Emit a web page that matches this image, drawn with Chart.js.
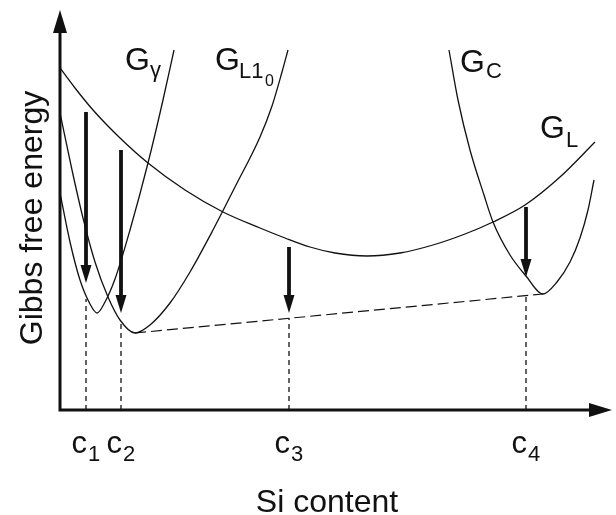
<!DOCTYPE html>
<html>
<head>
<meta charset="utf-8">
<title>Gibbs free energy vs Si content</title>
<script src="https://cdn.jsdelivr.net/npm/chart.js@4.4.1/dist/chart.umd.min.js"></script>
<style>
  html, body { margin: 0; padding: 0; background: #fff; }
  #wrap { width: 616px; height: 515px; }
</style>
</head>
<body>
<div id="wrap"><canvas id="gibbsChart" width="616" height="515"></canvas></div>
<script>
// schematic units: x = Si content, y = Gibbs free energy (arbitrary)
const gammaX = [0, 10, 20, 30, 37, 45, 55, 70, 88, 103, 114];
const gammaY = [217, 168, 130, 106, 97, 108, 131, 180, 247, 310, 360];

const l10X = [0, 12, 23, 35, 48, 60, 75, 90, 110, 130, 153, 175, 200, 212, 222, 228];
const l10Y = [297, 240, 192, 148, 113, 90, 77, 85, 107, 138, 180, 223, 273, 304, 338, 360];

const cX = [389, 398, 410, 424, 433, 450, 466, 483, 497, 510, 520, 528, 534];
const cY = [360, 310, 260, 215, 188, 155, 134, 116, 128, 148, 172, 200, 230];

const liqX = [0, 15, 33, 60, 88, 125, 163, 200, 225, 250, 275, 307, 340, 373, 405, 433, 465, 500, 535];
const liqY = [342, 322, 300, 272, 247, 220, 198, 182, 172, 163, 157, 154, 157, 165, 176, 188, 205, 233, 268];

// common tangent between L1_0 and C minima
const tangentX = [75, 483];
const tangentY = [77, 116];

// compositions c1..c4 and where the dashed drop lines start
const cLabels = ["1", "2", "3", "4"];
const cPos = [26, 61, 229, 466];
const cTop = [111, 88, 92, 114];

// arrows (free energy drop)
const arrowFrom = [298, 260, 163, 203];
const arrowTo = [127, 97, 97, 133];

const INK = "#111";
const FONT = '"Liberation Sans", Arial, Helvetica, sans-serif';

function pts(xs, ys) {
  return xs.map((x, i) => ({ x: x, y: ys[i] }));
}

function curve(xs, ys) {
  return {
    data: pts(xs, ys),
    showLine: true,
    borderColor: INK,
    borderWidth: 1.3,
    pointRadius: 0,
    cubicInterpolationMode: "monotone",
    fill: false
  };
}

const datasets = [
  curve(gammaX, gammaY),
  curve(l10X, l10Y),
  curve(cX, cY),
  curve(liqX, liqY),
  {
    data: pts(tangentX, tangentY),
    showLine: true,
    borderColor: INK,
    borderWidth: 1.2,
    borderDash: [11, 5],
    pointRadius: 0
  }
];

cPos.forEach((x, i) => {
  datasets.push({
    data: [{ x: x, y: 0 }, { x: x, y: cTop[i] }],
    showLine: true,
    borderColor: INK,
    borderWidth: 1.3,
    borderDash: [5, 4],
    pointRadius: 0
  });
});

// axes, arrows and labels
const decoPlugin = {
  id: "deco",
  afterDatasetsDraw(chart) {
    const ctx = chart.ctx;
    const area = chart.chartArea;
    const xs = chart.scales.x;
    const ys = chart.scales.y;
    ctx.save();
    ctx.fillStyle = INK;
    ctx.strokeStyle = INK;

    // axis lines
    ctx.lineWidth = 3;
    ctx.beginPath();
    ctx.moveTo(area.left, area.bottom + 1.5);
    ctx.lineTo(area.left, area.top + 18);
    ctx.moveTo(area.left - 1.5, area.bottom);
    ctx.lineTo(area.right - 18, area.bottom);
    ctx.stroke();

    // axis arrowheads
    ctx.beginPath();
    ctx.moveTo(area.left, area.top);
    ctx.lineTo(area.left - 7, area.top + 23);
    ctx.lineTo(area.left + 7, area.top + 23);
    ctx.closePath();
    ctx.fill();
    ctx.beginPath();
    ctx.moveTo(area.right, area.bottom);
    ctx.lineTo(area.right - 23, area.bottom - 7);
    ctx.lineTo(area.right - 23, area.bottom + 7);
    ctx.closePath();
    ctx.fill();

    // energy-drop arrows
    cPos.forEach((x, i) => {
      const px = xs.getPixelForValue(x);
      const y0 = ys.getPixelForValue(arrowFrom[i]);
      const y1 = ys.getPixelForValue(arrowTo[i]);
      ctx.lineWidth = 3.8;
      ctx.beginPath();
      ctx.moveTo(px, y0);
      ctx.lineTo(px, y1 - 10);
      ctx.stroke();
      ctx.beginPath();
      ctx.moveTo(px, y1);
      ctx.lineTo(px - 5.5, y1 - 18);
      ctx.lineTo(px + 5.5, y1 - 18);
      ctx.closePath();
      ctx.fill();
    });

    // c1..c4 tick labels
    ctx.textBaseline = "alphabetic";
    cPos.forEach((x, i) => {
      const px = xs.getPixelForValue(x);
      ctx.font = "31px " + FONT;
      ctx.textAlign = "right";
      ctx.fillText("c", px + 1, 453);
      ctx.font = "22px " + FONT;
      ctx.textAlign = "left";
      ctx.fillText(cLabels[i], px + 2, 461);
    });

    // axis titles
    ctx.font = "32px " + FONT;
    ctx.textAlign = "center";
    ctx.fillText("Si content", 327, 512);
    ctx.save();
    ctx.translate(42, 218);
    ctx.rotate(-Math.PI / 2);
    ctx.fillText("Gibbs free energy", 0, 0);
    ctx.restore();

    // curve labels
    ctx.textAlign = "left";
    ctx.font = "32px " + FONT;
    ctx.fillText("G", 125, 70);
    ctx.fillText("G", 215, 70);
    ctx.fillText("G", 460, 72);
    ctx.fillText("G", 540, 138);
    ctx.font = "22px " + FONT;
    ctx.fillText("γ", 150, 77);
    ctx.fillText("L1", 239, 78);
    ctx.fillText("C", 486, 78);
    ctx.fillText("L", 566, 147);
    ctx.font = "16px " + FONT;
    ctx.fillText("0", 265, 86);

    ctx.restore();
  }
};

new Chart(document.getElementById("gibbsChart"), {
  type: "scatter",
  data: { datasets: datasets },
  options: {
    responsive: false,
    animation: false,
    devicePixelRatio: 1,
    layout: { padding: { left: 60, top: 10, right: 4, bottom: 105 } },
    scales: {
      x: { type: "linear", min: 0, max: 552, display: false },
      y: { type: "linear", min: 0, max: 400, display: false }
    },
    plugins: {
      legend: { display: false },
      tooltip: { enabled: false }
    }
  },
  plugins: [decoPlugin]
});
</script>
</body>
</html>
